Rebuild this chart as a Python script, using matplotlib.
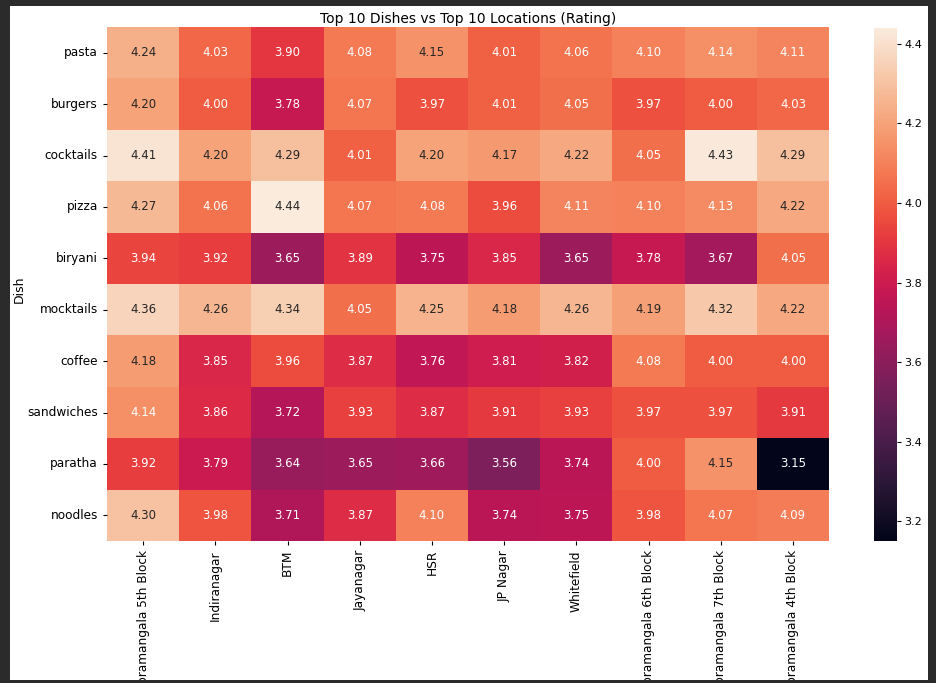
import numpy as np
import matplotlib
matplotlib.use("Agg")
import matplotlib.pyplot as plt
import seaborn as sns
from matplotlib.patches import Rectangle

dishes = ["pasta", "burgers", "cocktails", "pizza", "biryani", "mocktails",
          "coffee", "sandwiches", "paratha", "noodles"]
locations = ["Koramangala 5th Block", "Indiranagar", "BTM", "Jayanagar", "HSR",
             "JP Nagar", "Whitefield", "Koramangala 6th Block",
             "Koramangala 7th Block", "Koramangala 4th Block"]

pasta = [4.24, 4.03, 3.90, 4.08, 4.15, 4.01, 4.06, 4.10, 4.14, 4.11]
burgers = [4.20, 4.00, 3.78, 4.07, 3.97, 4.01, 4.05, 3.97, 4.00, 4.03]
cocktails = [4.41, 4.20, 4.29, 4.01, 4.20, 4.17, 4.22, 4.05, 4.43, 4.29]
pizza = [4.27, 4.06, 4.44, 4.07, 4.08, 3.96, 4.11, 4.10, 4.13, 4.22]
biryani = [3.94, 3.92, 3.65, 3.89, 3.75, 3.85, 3.65, 3.78, 3.67, 4.05]
mocktails = [4.36, 4.26, 4.34, 4.05, 4.25, 4.18, 4.26, 4.19, 4.32, 4.22]
coffee = [4.18, 3.85, 3.96, 3.87, 3.76, 3.81, 3.82, 4.08, 4.00, 4.00]
sandwiches = [4.14, 3.86, 3.72, 3.93, 3.87, 3.91, 3.93, 3.97, 3.97, 3.91]
paratha = [3.92, 3.79, 3.64, 3.65, 3.66, 3.56, 3.74, 4.00, 4.15, 3.15]
noodles = [4.30, 3.98, 3.71, 3.87, 4.10, 3.74, 3.75, 3.98, 4.07, 4.09]

data = np.array([pasta, burgers, cocktails, pizza, biryani, mocktails,
                 coffee, sandwiches, paratha, noodles])

W, H = 936, 683
fig = plt.figure(figsize=(W / 100, H / 100), dpi=100)
fig.patch.set_facecolor("white")

ax = fig.add_axes([107 / W, 1 - 541 / H, (829 - 107) / W, (541 - 27) / H])
cax = fig.add_axes([874 / W, 1 - 541 / H, (897 - 874) / W, (541 - 28) / H])

sns.heatmap(data, ax=ax, cbar_ax=cax, cmap="rocket", annot=True, fmt=".2f",
            xticklabels=locations, yticklabels=dishes,
            annot_kws={"fontsize": 8.5})
ax.set_title("Top 10 Dishes vs Top 10 Locations (Rating)", fontsize=10, pad=3)
ax.set_ylabel("Dish", fontsize=9)
ax.yaxis.set_label_coords(-0.112, 0.49)
ax.set_xlabel("")
ax.tick_params(axis="x", labelrotation=90, labelsize=8.7, length=3)
ax.tick_params(axis="y", labelrotation=0, labelsize=8.7, length=3)
cax.tick_params(labelsize=8, length=3, pad=2)
for sp in cax.spines.values():
    sp.set_visible(False)

# dark screenshot frame
border = "#2b2b2b"
for (x0, y0, w, h) in [(0, 0, 10, H), (928, 0, W - 928, H), (0, 0, W, 6), (0, 680, W, H - 680)]:
    fig.add_artist(Rectangle((x0 / W, 1 - (y0 + h) / H), w / W, h / H,
                             transform=fig.transFigure, facecolor=border,
                             edgecolor="none", zorder=20))

fig.savefig("out.png", dpi=100)
